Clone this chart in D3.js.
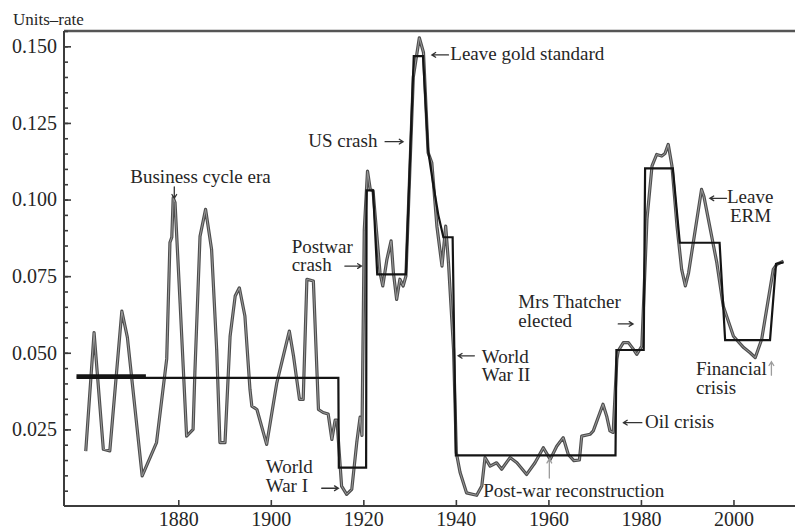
<!DOCTYPE html>
<html>
<head>
<meta charset="utf-8">
<script src="https://cdn.jsdelivr.net/npm/d3@7/dist/d3.min.js"></script>
<style>
  body { margin: 0; background: #fff; }
</style>
</head>
<body>
<svg id="chart" width="795" height="531"></svg>
<script>
// Annual units-rate series
const years = [
  1860.0, 1861.8, 1863.8, 1865.2, 1867.8, 1869.0, 1872.2, 1875.3, 1877.5, 1878.2, 1878.6, 1878.9,
  1879.3, 1880.4, 1881.8, 1883.2, 1883.6, 1884.7, 1885.9, 1887.2, 1888.3, 1889.0, 1890.1,
  1891.2, 1892.3, 1893.2, 1894.4, 1895.5, 1895.9, 1897.0, 1899.1, 1901.3, 1904.0, 1904.9,
  1906.2, 1907.0, 1907.8, 1909.2, 1910.3, 1911.3, 1912.4, 1913.2, 1913.9, 1914.3, 1915.3,
  1916.4, 1917.5, 1918.6, 1919.3, 1919.7, 1920.2, 1920.9, 1921.5, 1922.1, 1923.6, 1924.2,
  1925.1, 1926.0, 1926.5, 1927.2, 1927.9, 1928.6, 1929.2, 1930.8, 1932.1, 1933.0, 1934.0,
  1934.8, 1935.9, 1937.0, 1937.8, 1938.4, 1939.5, 1940.1, 1940.9, 1942.3, 1944.5, 1945.6,
  1946.3, 1947.4, 1948.8, 1949.9, 1951.7, 1953.2, 1955.3, 1957.1, 1958.9, 1960.4, 1961.8,
  1963.2, 1964.3, 1965.5, 1966.7, 1967.2, 1969.0, 1969.7, 1971.8, 1972.6, 1973.3, 1974.0,
  1974.8, 1975.1, 1976.2, 1977.3, 1978.4, 1979.1, 1980.2, 1981.3, 1982.4, 1983.4, 1984.5,
  1985.2, 1985.9, 1986.7, 1987.8, 1988.8, 1989.6, 1990.3, 1993.1, 1993.6, 1996.4, 1997.8,
  2000.0, 2002.2, 2003.6, 2004.7, 2006.1, 2008.6, 2009.4, 2010.8
];
const rates = [
  0.0179, 0.0566, 0.0185, 0.0180, 0.0636, 0.0550, 0.0098, 0.0207, 0.0480, 0.0860, 0.0877, 0.1006,
  0.0990, 0.0660, 0.0228, 0.0250, 0.0440, 0.0880, 0.0968, 0.0837, 0.0511, 0.0207, 0.0207,
  0.0554, 0.0685, 0.0712, 0.0620, 0.0380, 0.0326, 0.0315, 0.0201, 0.0402, 0.0571, 0.0490,
  0.0348, 0.0348, 0.0740, 0.0734, 0.0315, 0.0305, 0.0300, 0.0217, 0.0280, 0.0280, 0.0065,
  0.0038, 0.0054, 0.0210, 0.0290, 0.0230, 0.0900, 0.1093, 0.1033, 0.1028, 0.0762, 0.0718,
  0.0805, 0.0865, 0.0761, 0.0674, 0.0740, 0.0718, 0.0750, 0.1400, 0.1528, 0.1480, 0.1153,
  0.1120, 0.0913, 0.0783, 0.0913, 0.0794, 0.0511, 0.0174, 0.0110, 0.0043, 0.0035, 0.0065,
  0.0158, 0.0130, 0.0141, 0.0120, 0.0158, 0.0141, 0.0103, 0.0141, 0.0190, 0.0152, 0.0195,
  0.0223, 0.0168, 0.0148, 0.0150, 0.0228, 0.0234, 0.0245, 0.0332, 0.0293, 0.0245, 0.0240,
  0.0480, 0.0506, 0.0533, 0.0533, 0.0511, 0.0495, 0.0522, 0.0935, 0.1110, 0.1147, 0.1142,
  0.1150, 0.1180, 0.1110, 0.0913, 0.0772, 0.0718, 0.0761, 0.1033, 0.1011, 0.0794, 0.0652,
  0.0554, 0.0517, 0.0500, 0.0484, 0.0544, 0.0772, 0.0789, 0.0799
];

// Regime means (breakpoints of the step line)
const regimeYears = [
  1858.0, 1914.6, 1914.7, 1920.6, 1920.7, 1922.1, 1923.0, 1929.2, 1930.9, 1932.9, 1934.0,
  1935.0, 1936.2, 1937.3, 1939.3, 1940.0, 1974.5, 1974.7, 1980.6, 1980.9, 1986.9, 1988.4,
  1997.0, 1998.2, 2007.9, 2009.2, 2010.8
];
const regimeRates = [
  0.0418, 0.0418, 0.0125, 0.0125, 0.1030, 0.1030, 0.0756, 0.0756, 0.1468, 0.1468, 0.1160,
  0.1060, 0.0950, 0.0877, 0.0877, 0.0165, 0.0165, 0.0509, 0.0509, 0.1102, 0.1102, 0.0859,
  0.0859, 0.0541, 0.0541, 0.0790, 0.0795
];
// Early-period mean drawn heavier
const earlyYears = [1858.0, 1873.0];
const earlyRates = [0.0425, 0.0425];

const xTicks = [1880, 1900, 1920, 1940, 1960, 1980, 2000];
const yTicks = [0.025, 0.050, 0.075, 0.100, 0.125, 0.150];
const yMinorTicks = d3.range(1, 32).map(i => +(i * 0.005).toFixed(3));
const yTitle = "Units–rate";

// Event notes: text lines anchored in data space, plus arrows (from -> to)
const notes = [
  { lines: ["Business cycle era"], at: [1884.8, 0.1054], anchor: "middle" },
  { lines: ["Postwar", "crash"], at: [1904.5, 0.0826] },
  { lines: ["US crash"], at: [1908.1, 0.1172] },
  { lines: ["Leave gold standard"], at: [1938.8, 0.1455] },
  { lines: ["World", "War II"], at: [1945.6, 0.0467] },
  { lines: ["Post-war reconstruction"], at: [1945.9, 0.0029] },
  { lines: ["World", "War I"], at: [1898.9, 0.0107] },
  { lines: ["Mrs Thatcher", "elected"], at: [1953.5, 0.0645] },
  { lines: ["Oil crisis"], at: [1980.9, 0.0254] },
  { lines: ["Financial", "crisis"], at: [1991.9, 0.0427] },
  { lines: ["Leave", "ERM"], at: [1998.6, 0.0988], indent: [0, 3] }
];
const arrows = [
  { from: [1879.14, 0.1041], to: [1879.14, 0.1004], light: false },
  { from: [1916.0, 0.0783], to: [1919.6, 0.0783], light: false },
  { from: [1924.7, 0.1189], to: [1928.6, 0.1189], light: false },
  { from: [1938.4, 0.1472], to: [1934.8, 0.1472], light: false },
  { from: [1944.0, 0.0490], to: [1940.5, 0.0490], light: false },
  { from: [1960.2, 0.0091], to: [1960.2, 0.0153], light: true },
  { from: [1911.0, 0.0058], to: [1914.6, 0.0058], light: false },
  { from: [1975.1, 0.0594], to: [1978.3, 0.0594], light: false },
  { from: [1980.2, 0.0272], to: [1976.2, 0.0272], light: false },
  { from: [2008.2, 0.0427], to: [2008.2, 0.0471], light: true },
  { from: [1998.5, 0.1004], to: [1994.9, 0.1004], light: false }
];

const serif = "'Liberation Serif', 'Times New Roman', Times, serif";
const ink = "#262626";

const svg = d3.select("#chart").attr("font-family", serif);
const plotLeft = 64, plotRight = 795, plotTop = 31, plotBottom = 506;

const x = d3.scaleLinear().domain([1855.3, 2013.3]).range([plotLeft, plotRight]);
const y = d3.scaleLinear().domain([0, 0.155]).range([plotBottom, plotTop]);

// Frame: left axis, top rule, bottom axis
const frame = svg.append("g").attr("stroke", "#3c3c3c").attr("stroke-width", 2).attr("fill", "none");
frame.append("line").attr("x1", plotLeft).attr("x2", plotLeft).attr("y1", plotTop).attr("y2", plotBottom);
frame.append("line").attr("x1", plotLeft).attr("x2", plotRight).attr("y1", plotTop).attr("y2", plotTop)
  .attr("stroke", "#555").attr("stroke-width", 2.5);
frame.append("line").attr("x1", plotLeft).attr("x2", plotRight).attr("y1", plotBottom).attr("y2", plotBottom);

// Y axis: minor and major ticks pointing inward
const yMinor = svg.append("g").attr("transform", `translate(${plotLeft},0)`)
  .call(d3.axisLeft(y).tickValues(yMinorTicks).tickSizeInner(-4).tickSizeOuter(0).tickFormat(""));
const yMajor = svg.append("g").attr("transform", `translate(${plotLeft},0)`)
  .call(d3.axisLeft(y).tickValues(yTicks).tickSizeInner(-7).tickSizeOuter(0).tickPadding(7)
    .tickFormat(d3.format(".3f")));
const xAxis = svg.append("g").attr("transform", `translate(0,${plotBottom})`)
  .call(d3.axisBottom(x).tickValues(xTicks).tickSizeInner(-6).tickSizeOuter(0).tickPadding(6)
    .tickFormat(d3.format("d")));
[yMinor, yMajor, xAxis].forEach(g => {
  g.attr("font-family", serif).attr("font-size", 20);
  g.select(".domain").remove();
  g.selectAll(".tick line").attr("stroke", "#3c3c3c").attr("stroke-width", 1.6);
  g.selectAll(".tick text").attr("font-family", serif).attr("font-size", 20).attr("fill", ink);
});

svg.append("text").attr("x", 13).attr("y", 25).attr("font-family", serif)
  .attr("font-size", 17).attr("fill", ink).text(yTitle);

// Series line (drawn as a gray stroke with a lighter core)
const series = years.map((yr, i) => [yr, rates[i]]);
const line = d3.line().x(d => x(d[0])).y(d => y(d[1]));
svg.append("path").datum(series).attr("d", line)
  .attr("fill", "none").attr("stroke", "#4e4e4e").attr("stroke-width", 3.2).attr("stroke-linejoin", "round");
svg.append("path").datum(series).attr("d", line)
  .attr("fill", "none").attr("stroke", "#9a9a9a").attr("stroke-width", 1).attr("stroke-linejoin", "round");

// Regime step line
const regimes = regimeYears.map((yr, i) => [yr, regimeRates[i]]);
svg.append("path").datum(regimes).attr("d", line)
  .attr("fill", "none").attr("stroke", "#141414").attr("stroke-width", 2.2).attr("stroke-linejoin", "miter");
svg.append("path").datum(earlyYears.map((yr, i) => [yr, earlyRates[i]])).attr("d", line)
  .attr("fill", "none").attr("stroke", "#141414").attr("stroke-width", 3);

// Arrows
const ag = svg.append("g").attr("fill", "none").attr("stroke-linecap", "round");
arrows.forEach(a => {
  const x1 = x(a.from[0]), y1 = y(a.from[1]), x2 = x(a.to[0]), y2 = y(a.to[1]);
  const ang = Math.atan2(y2 - y1, x2 - x1), h = 4.5, s = 0.55;
  const col = a.light ? "#9c9c9c" : "#333";
  ag.append("path")
    .attr("d", `M${x1},${y1}L${x2},${y2}` +
      `M${x2 - h * Math.cos(ang - s)},${y2 - h * Math.sin(ang - s)}L${x2},${y2}` +
      `L${x2 - h * Math.cos(ang + s)},${y2 - h * Math.sin(ang + s)}`)
    .attr("stroke", col).attr("stroke-width", 1.3);
});

// Notes
notes.forEach(n => {
  const t = svg.append("text").attr("font-family", serif).attr("font-size", 19).attr("fill", ink)
    .attr("text-anchor", n.anchor || "start");
  n.lines.forEach((s, i) => {
    t.append("tspan").attr("x", x(n.at[0]) + (n.indent ? n.indent[i] : 0))
      .attr("y", y(n.at[1]) + i * 18.4).text(s);
  });
});
</script>
</body>
</html>
